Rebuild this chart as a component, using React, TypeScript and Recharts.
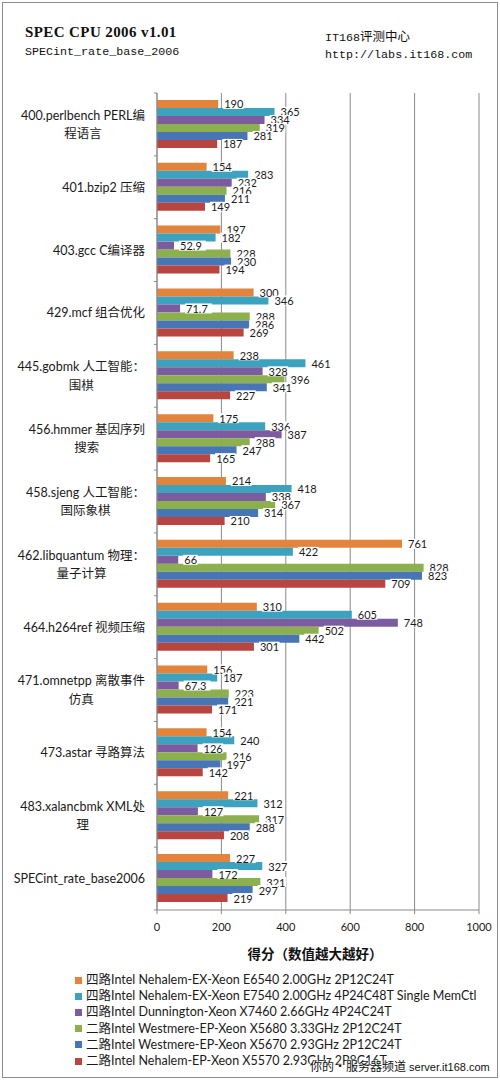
import React from "react";
import { BarChart, Bar, XAxis, YAxis, CartesianGrid, LabelList } from "recharts";

if (typeof document !== "undefined") {
  document.body.style.margin = "0";
}

const categories = [
  "400.perlbench PERL编\n程语言",
  "401.bzip2 压缩",
  "403.gcc C编译器",
  "429.mcf 组合优化",
  "445.gobmk 人工智能：\n围棋",
  "456.hmmer 基因序列\n搜索",
  "458.sjeng 人工智能：\n国际象棋",
  "462.libquantum 物理：\n量子计算",
  "464.h264ref 视频压缩",
  "471.omnetpp 离散事件\n仿真",
  "473.astar 寻路算法",
  "483.xalancbmk XML处\n理",
  "SPECint_rate_base2006",
];

const seriesNames = [
  "四路Intel Nehalem-EX-Xeon E6540 2.00GHz 2P12C24T",
  "四路Intel Nehalem-EX-Xeon E7540 2.00GHz 4P24C48T Single MemCtl",
  "四路Intel Dunnington-Xeon X7460 2.66GHz 4P24C24T",
  "二路Intel Westmere-EP-Xeon X5680 3.33GHz 2P12C24T",
  "二路Intel Westmere-EP-Xeon X5670 2.93GHz 2P12C24T",
  "二路Intel Nehalem-EP-Xeon X5570 2.93GHz 2P8C16T",
];

const seriesColors = ["#E3843D", "#3DA2BE", "#7C5C9E", "#8CB04D", "#4775B5", "#B8453F"];

const e6540 = [190, 154, 197, 300, 238, 175, 214, 761, 310, 156, 154, 221, 227];
const e7540 = [365, 283, 182, 346, 461, 336, 418, 422, 605, 187, 240, 312, 327];
const x7460 = [334, 232, 52.9, 71.7, 328, 387, 338, 66, 748, 67.3, 126, 127, 172];
const x5680 = [319, 216, 228, 288, 396, 288, 367, 828, 502, 223, 216, 317, 321];
const x5670 = [281, 211, 230, 286, 341, 247, 314, 823, 442, 221, 197, 288, 297];
const x5570 = [187, 149, 194, 269, 227, 165, 210, 709, 301, 171, 142, 208, 219];

const xTicks = [0, 200, 400, 600, 800, 1000];

const seriesValues = [e6540, e7540, x7460, x5680, x5670, x5570];
const seriesKeys = ["s0", "s1", "s2", "s3", "s4", "s5"];

const data = categories.map((name, i) => {
  const row: Record<string, any> = { name };
  seriesKeys.forEach((k, j) => {
    row[k] = seriesValues[j][i];
  });
  return row;
});

const CAT_FONT = "12.5px Lato, 'Noto Sans CJK SC', sans-serif";
let measureCtx: CanvasRenderingContext2D | null = null;
const measure = (s: string) => {
  if (typeof document === "undefined") return s.length * 7;
  if (!measureCtx) {
    const c = document.createElement("canvas");
    measureCtx = c.getContext("2d");
  }
  if (!measureCtx) return s.length * 7;
  measureCtx.font = CAT_FONT;
  return measureCtx.measureText(s).width;
};

const CatTick = (props: any) => {
  const { x, y, payload, index, visibleTicksCount } = props;
  const lines = String(payload.value).split("\n");
  const off = payload.offset ?? 0;
  const tickX1 = x + 9;
  const tickX2 = x + 12;
  const style = { fontFamily: "Lato, 'Noto Sans CJK SC', sans-serif", fontSize: 12.5, fill: "#1a1a1a" };
  const isLast = index === (visibleTicksCount ?? categories.length) - 1;
  let textEls: React.ReactNode;
  if (lines.length === 1) {
    textEls = (
      <text x={x} y={y} textAnchor="end" dominantBaseline="central" style={style}>
        {lines[0]}
      </text>
    );
  } else {
    const w1 = measure(lines[0]);
    const cx = x - w1 / 2;
    textEls = (
      <>
        <text x={x} y={y - 9.2} textAnchor="end" dominantBaseline="central" style={style}>
          {lines[0]}
        </text>
        <text x={cx} y={y + 9.2} textAnchor="middle" dominantBaseline="central" style={style}>
          {lines[1]}
        </text>
      </>
    );
  }
  return (
    <g>
      <line x1={tickX1} x2={tickX2} y1={y - off} y2={y - off} stroke="#8a8a8a" />
      {isLast && <line x1={tickX1} x2={tickX2} y1={y + off} y2={y + off} stroke="#8a8a8a" />}
      {textEls}
    </g>
  );
};

const ValueLabel = (props: any) => {
  const { x, y, width, height, value } = props;
  const s = String(value);
  const tx = x + width + 6;
  const ty = y + height / 2;
  const w = s.length * 6.2;
  return (
    <g>
      <rect x={tx - 1} y={ty - 5} width={w + 2} height={10} fill="#ffffff" />
      <text
        x={tx}
        y={ty}
        dominantBaseline="central"
        style={{ fontFamily: "Lato, sans-serif", fontSize: 11, fill: "#1a1a1a" }}
      >
        {s}
      </text>
    </g>
  );
};

export default function App() {
  return (
    <div style={{ position: "relative", width: 500, height: 1080, background: "#fff", overflow: "hidden" }}>
      <BarChart
        layout="vertical"
        width={500}
        height={1080}
        data={data}
        margin={{ top: 93, right: 21, bottom: 140, left: 7 }}
        barCategoryGap="11%"
        barGap={0}
      >
        <CartesianGrid horizontal={false} vertical={true} stroke="#8a8a8a" />
        <XAxis
          type="number"
          domain={[0, 1000]}
          ticks={xTicks}
          height={30}
          tickSize={4}
          tickMargin={9}
          axisLine={{ stroke: "#8a8a8a" }}
          tickLine={{ stroke: "#8a8a8a" }}
          tick={{ fontFamily: "Lato, sans-serif", fontSize: 11, fill: "#1a1a1a" }}
          interval={0}
        />
        <YAxis
          type="category"
          dataKey="name"
          width={150}
          tickSize={0}
          tickMargin={12}
          tickLine={false}
          axisLine={{ stroke: "#8a8a8a" }}
          tick={<CatTick />}
          interval={0}
        />
        {seriesKeys.map((k, j) => (
          <Bar key={k} dataKey={k} name={seriesNames[j]} fill={seriesColors[j]} isAnimationActive={false}>
            <LabelList dataKey={k} content={<ValueLabel />} />
          </Bar>
        ))}
      </BarChart>

      <div
        style={{
          position: "absolute",
          left: 2,
          top: 2,
          width: 494,
          height: 1074,
          border: "1px solid #8c8c8c",
          pointerEvents: "none",
        }}
      />

      <div
        style={{
          position: "absolute",
          left: 25,
          top: 24,
          fontFamily: "'Liberation Serif', serif",
          fontWeight: "bold",
          fontSize: 15,
          letterSpacing: 0.4,
          color: "#111",
          lineHeight: "17px",
          whiteSpace: "nowrap",
        }}
      >
        SPEC CPU 2006 v1.01
      </div>
      <div
        style={{
          position: "absolute",
          left: 25,
          top: 45,
          fontFamily: "'Liberation Mono', monospace",
          fontSize: 11.7,
          color: "#111",
          lineHeight: "14px",
          whiteSpace: "nowrap",
        }}
      >
        SPECint_rate_base_2006
      </div>
      <div
        style={{
          position: "absolute",
          left: 325,
          top: 28,
          fontFamily: "'Liberation Mono', 'Noto Sans CJK SC', monospace",
          fontSize: 11.7,
          color: "#111",
          lineHeight: "16px",
          whiteSpace: "nowrap",
        }}
      >
        IT168<span style={{ fontFamily: "'Noto Sans CJK SC', sans-serif", fontSize: 12.5 }}>评测中心</span>
      </div>
      <div
        style={{
          position: "absolute",
          left: 325,
          top: 48,
          fontFamily: "'Liberation Mono', monospace",
          fontSize: 11.7,
          color: "#111",
          lineHeight: "14px",
          whiteSpace: "nowrap",
        }}
      >
        http://labs.it168.com
      </div>

      <div
        style={{
          position: "absolute",
          left: 215,
          width: 200,
          top: 945,
          textAlign: "center",
          fontFamily: "'Noto Sans CJK SC', sans-serif",
          fontWeight: "bold",
          fontSize: 13.5,
          lineHeight: "16px",
          color: "#111",
          whiteSpace: "nowrap",
        }}
      >
        得分（数值越大越好）
      </div>

      <div style={{ position: "absolute", left: 75, top: 972 }}>
        {seriesNames.map((n, j) => (
          <div
            key={n}
            style={{
              display: "flex",
              alignItems: "center",
              height: 16.2,
              whiteSpace: "nowrap",
            }}
          >
            <span style={{ display: "inline-block", width: 7, height: 7, background: seriesColors[j], marginRight: 4 }} />
            <span
              style={{
                fontFamily: "Lato, 'Noto Sans CJK SC', sans-serif",
                fontSize: 12.5,
                color: "#1a1a1a",
                lineHeight: "16px",
              }}
            >
              {n}
            </span>
          </div>
        ))}
      </div>

      <div
        style={{
          position: "absolute",
          left: 310,
          top: 1057,
          lineHeight: "18px",
          color: "#111",
          whiteSpace: "nowrap",
          textShadow: "0 0 2px #fff, 0 0 2px #fff, 0 0 3px #fff",
        }}
      >
        <span style={{ fontFamily: "'Noto Sans CJK SC', sans-serif", fontSize: 12 }}>你的•服务器频道</span>
        <span style={{ fontFamily: "'Liberation Sans', sans-serif", fontSize: 11 }}> server.it168.com</span>
      </div>
    </div>
  );
}
